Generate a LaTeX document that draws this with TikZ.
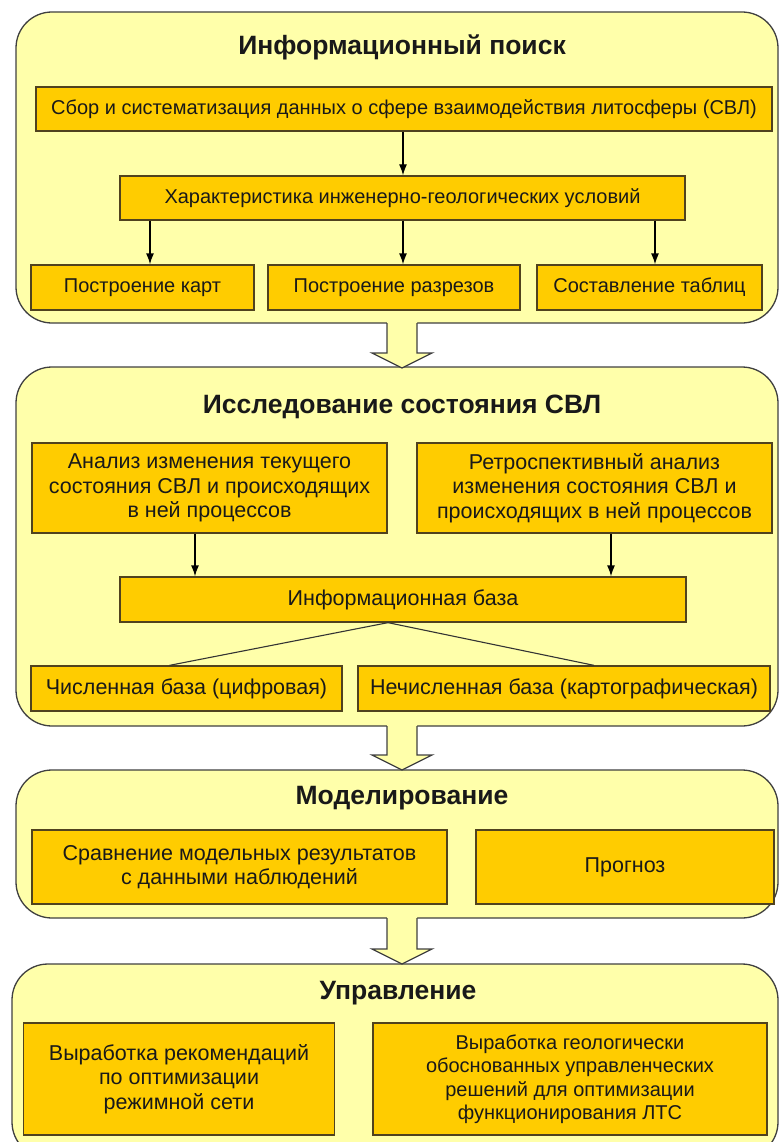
\documentclass[tikz,border=0pt]{standalone}
\usepackage{fontspec}
\setmainfont{Liberation Sans}
\usetikzlibrary{calc, arrows.meta}
\definecolor{panelfill}{RGB}{255,255,170}
\definecolor{boxfill}{RGB}{255,204,0}
\definecolor{boxedge}{RGB}{80,66,30}
\tikzset{
 panel/.style={draw=black!75, fill=panelfill, line width=1.3pt, rounded corners=36pt},
 box/.style={draw=boxedge, fill=boxfill, line width=1.3pt, inner sep=0pt, align=center,
  text=black!90, font=\fontsize{21.5}{24.5}\selectfont},
 small/.style={font=\fontsize{20}{23}\selectfont},
 ttl/.style={font=\bfseries\fontsize{26.5}{30}\selectfont, text=black!90},
 arr/.style={-{Latex[length=11pt,width=8pt]}, line width=1.3pt},
 ln/.style={line width=1.1pt, draw=black!80}
}
\begin{document}
\begin{tikzpicture}[x=1pt, y=-1pt]
 \useasboundingbox (0,0) rectangle (779,1142);
 \clip (0,0) rectangle (779,1142);
 % パネル
 \draw[panel] (16,12) rectangle (778,323);
 \draw[panel] (16,367) rectangle (778,726);
 \draw[panel] (16,770) rectangle (778,918);
 \draw[panel] (12,964) rectangle (778,1158);
 % ブロック矢印
 \foreach \a/\b in {323/368, 726/770, 918/964}{
  \fill[panelfill] (387,{\a-1.5}) -- (387,{\b-15}) -- (372,{\b-15}) -- (402,\b)
   -- (432,{\b-15}) -- (417,{\b-15}) -- (417,{\a-1.5}) -- cycle;
  \draw[draw=black!75, line width=1.3pt] (387,\a) -- (387,{\b-15}) -- (372,{\b-15})
   -- (402,\b) -- (432,{\b-15}) -- (417,{\b-15}) -- (417,\a);
 }

 \node[ttl] (t1) at (402,47) {Информационный поиск};
 \node[box, small, minimum width=736pt, minimum height=44pt] (sbor) at (404,109)
  {Сбор и систематизация данных о сфере взаимодействия литосферы (СВЛ)};
 \node[box, small, minimum width=565pt, minimum height=44pt] (har) at (402.5,198)
  {Характеристика инженерно-геологических условий};
 \node[box, small, minimum width=223pt, minimum height=45pt] (kart) at (142.5,287.5) {Построение карт};
 \node[box, small, minimum width=252pt, minimum height=45pt] (razr) at (394,287.5) {Построение разрезов};
 \node[box, small, minimum width=225pt, minimum height=45pt] (tabl) at (649.5,287.5) {Составление таблиц};
 \draw[arr] (sbor.south -| 403,0) -- (har.north -| 403,0);
 \draw[arr] (har.south -| 150,0) -- (kart.north -| 150,0);
 \draw[arr] (har.south -| 403,0) -- (razr.north -| 403,0);
 \draw[arr] (har.south -| 655,0) -- (tabl.north -| 655,0);

 \node[ttl] (t2) at (402,407) {Исследование состояния СВЛ};
 \node[box, minimum width=355pt, minimum height=90pt] (anA) at (209.5,488)
  {Анализ изменения текущего\\состояния СВЛ и происходящих\\в ней процессов};
 \node[box, minimum width=355pt, minimum height=90pt] (anB) at (594.5,488)
  {Ретроспективный анализ\\изменения состояния СВЛ и\\происходящих в ней процессов};
 \node[box, minimum width=566pt, minimum height=45pt] (info) at (403,599.5) {Информационная база};
 \node[box, minimum width=311pt, minimum height=45pt] (num) at (186.5,688.5) {Численная база (цифровая)};
 \node[box, minimum width=412pt, minimum height=45pt] (nonnum) at (564,688.5) {Нечисленная база (картографическая)};
 \draw[arr] (anA.south -| 195,0) -- (info.north -| 195,0);
 \draw[arr] (anB.south -| 611,0) -- (info.north -| 611,0);
 \coordinate (apex) at ($(info.south)+(-15,0)$);%分岐点
 \draw[ln] (apex) -- ([xshift=-17pt]num.north);
 \draw[ln] (apex) -- ([xshift=30pt]nonnum.north);

 \node[ttl] (t3) at (402,798) {Моделирование};
 \node[box, minimum width=415pt, minimum height=74pt] (cmp) at (239.5,867)
  {Сравнение модельных результатов\\с данными наблюдений};
 \node[box, minimum width=298pt, minimum height=74pt] (prog) at (625,867) {Прогноз};

 \node[ttl] (t4) at (398,993) {Управление};
 \node[box, minimum width=311pt, minimum height=112pt, font=\fontsize{21.5}{24.5}\selectfont] (rec) at (179,1079)
  {Выработка рекомендаций\\по оптимизации\\режимной сети};
 \node[box, minimum width=394pt, minimum height=112pt, font=\fontsize{20}{23.5}\selectfont] (dec) at (570,1079)
  {Выработка геологически\\обоснованных управленческих\\решений для оптимизации\\функционирования ЛТС};
\end{tikzpicture}
\end{document}
